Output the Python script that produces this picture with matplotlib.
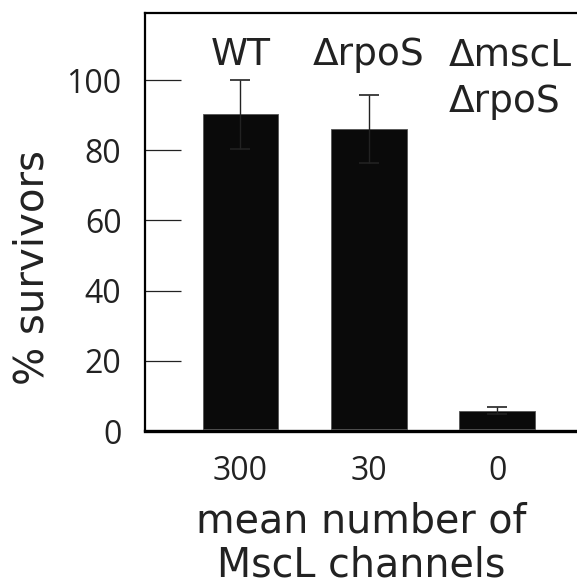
import matplotlib
matplotlib.use("Agg")
import matplotlib.pyplot as plt
import numpy as np

plt.rcParams['font.family'] = ['DejaVu Sans']

strains = ["WT", "ΔrpoS", "ΔmscL\nΔrpoS"]
channels = ["300", "30", "0"]
survivors = [89.7, 85.5, 5.3]
errors = [9.9, 9.7, 1.0]
yticks = [0, 20, 40, 60, 80, 100]

fig = plt.figure(figsize=(5.77, 5.86), dpi=100)
ax = fig.add_axes([145/577, (586-431)/586, 1 - 145/577, (431-13)/586])

x = np.arange(len(survivors))
ax.bar(x, survivors, width=0.59, bottom=0.5, color='#0a0a0a', edgecolor='#555555', linewidth=0.6, zorder=2)
ax.errorbar(x, np.array(survivors) + 0.5, yerr=errors, fmt='none', ecolor='#222222', elinewidth=1.0,
            capsize=7.5, capthick=1.2, zorder=3)

ax.set_xlim(-0.744, 2.623)
ax.set_ylim(0, 119.1)

for s in ['left', 'top']:
    ax.spines[s].set_linewidth(1.6)
ax.spines['bottom'].set_linewidth(2.4)
ax.spines['right'].set_visible(False)

ax.set_yticks(yticks)
ax.set_yticklabels([str(v) for v in yticks])
ax.tick_params(axis='y', direction='in', length=26, width=0.9, color='#222222', pad=17,
               labelcolor='#222222', labelsize=23, labelfontfamily='Open Sans')
ax.set_xticks(x)
ax.set_xticklabels(channels)
ax.tick_params(axis='x', length=0, pad=17, labelcolor='#222222', labelsize=23,
               labelfontfamily='Open Sans')

ax.set_ylabel("% survivors", fontsize=29, color='#222222')
ax.yaxis.set_label_coords(-0.213, 0.39)
ax.set_xlabel("mean number of\nMscL channels", fontsize=28.5, color='#222222', labelpad=10, linespacing=1.13)

# strain labels
ax.text(x[0], 104.3, strains[0], ha='center', va='baseline', fontsize=27, color='#222222')
ax.text(x[1], 104.3, strains[1], ha='center', va='baseline', fontsize=27, color='#222222')
ax.text(1.625, 90.9, strains[2], ha='left', va='baseline', fontsize=27, color='#222222',
        multialignment='left', linespacing=1.37)

fig.savefig("out.png", dpi=100)
